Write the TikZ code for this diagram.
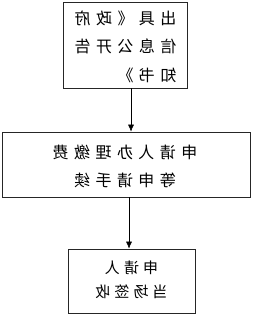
\documentclass[tikz,border=0pt]{standalone}
\usepackage{fontspec}
\setmainfont{Noto Sans CJK SC}
\usetikzlibrary{arrows.meta}
\tikzset{
  boxst/.style={draw=black!85, line width=0.7pt, fill=white, inner sep=0pt},
  txt/.style={xscale=-1, inner sep=0pt},
  arr/.style={draw=black, line width=0.6pt, -{Latex[length=7pt,width=6pt]}}
}
\begin{document}
\begin{tikzpicture}[x=1pt,y=1pt]
\useasboundingbox (0,0) rectangle (253,-315);
\node[boxst, minimum width=124pt, minimum height=86pt] (top) at (125,-45) {};
\node[txt, align=left, font=\fontsize{16pt}{28.5pt}\selectfont\addfontfeature{LetterSpace=34}] (toptext) at (125.5,-46.5) {出具《政府\\信息公开告\\知书》};
\node[boxst, minimum width=248pt, minimum height=65pt] (mid) at (126,-164.5) {};
\node[txt, align=center, font=\fontsize{16pt}{28pt}\selectfont\addfontfeature{LetterSpace=34}] (midtext) at (125,-166) {申请人办理缴费\\等申请手续};
\node[boxst, minimum width=127pt, minimum height=64pt] (bot) at (131.5,-281) {};
\node[txt, align=center, font=\fontsize{15pt}{24pt}\selectfont\addfontfeature{LetterSpace=27}] (bottext) at (131.5,-280) {申请人\\当场签收};
\coordinate (a1) at (131,0);
\coordinate (a2) at (129,0);
\draw[arr] (top.south -| a1) -- (mid.north -| a1);
\draw[arr] (mid.south -| a2) -- (bot.north -| a2);
\end{tikzpicture}
\end{document}
